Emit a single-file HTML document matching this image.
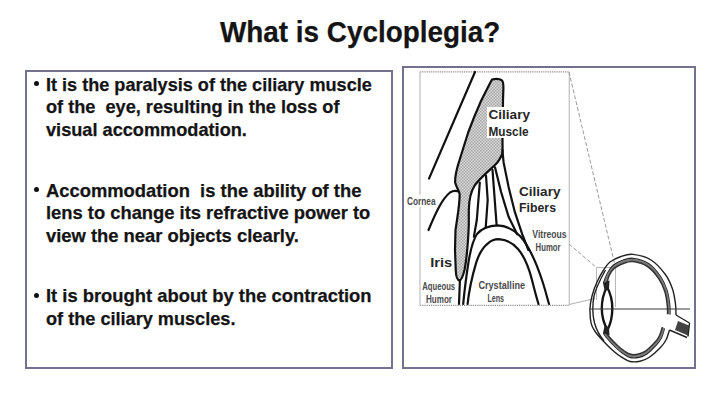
<!DOCTYPE html>
<html><head><meta charset="utf-8">
<style>
html,body{margin:0;padding:0;background:#fff;}
body{width:720px;height:404px;position:relative;overflow:hidden;font-family:"Liberation Sans",sans-serif;}
.t{position:absolute;white-space:pre;color:#141414;font-weight:bold;line-height:1;transform-origin:0 0;-webkit-text-stroke:0.25px #141414;}
.title{font-size:29px;}
.ln{font-size:18.5px;}
.bul{position:absolute;width:5px;height:5px;border-radius:50%;background:#111;}
.box{position:absolute;box-sizing:border-box;border:2.4px solid #72728c;}
</style></head><body>
<div class="t title m" id="title" style="left:219.5px;top:17.6px;transform:scaleX(0.961)">What is Cycloplegia?</div>

<div class="box" style="left:25px;top:70px;width:368px;height:299px;"></div>
<div class="box" style="left:401.5px;top:66px;width:294.5px;height:303px;"></div>

<div class="bul" style="left:33.9px;top:81px;"></div>
<div class="t ln m" id="l1" style="left:46.4px;top:75.9px;transform:scaleX(0.978)">It is the paralysis of the ciliary muscle</div>
<div class="t ln m" id="l2" style="left:46.4px;top:98.4px;transform:scaleX(0.981)">of the  eye, resulting in the loss of</div>
<div class="t ln m" id="l3" style="left:46.4px;top:121.1px;transform:scaleX(0.982)">visual accommodation.</div>

<div class="bul" style="left:34.1px;top:186.9px;"></div>
<div class="t ln m" id="l4" style="left:46.4px;top:181.7px;transform:scaleX(0.993)">Accommodation  is the ability of the</div>
<div class="t ln m" id="l5" style="left:46.4px;top:204.2px;transform:scaleX(0.992)">lens to change its refractive power to</div>
<div class="t ln m" id="l6" style="left:46.4px;top:226.5px;transform:scaleX(0.993)">view the near objects clearly.</div>

<div class="bul" style="left:33.9px;top:292.6px;"></div>
<div class="t ln m" id="l7" style="left:46.4px;top:287.1px;transform:scaleX(0.993)">It is brought about by the contraction</div>
<div class="t ln m" id="l8" style="left:46.4px;top:309.6px;transform:scaleX(0.980)">of the ciliary muscles.</div>

<svg width="720" height="404" viewBox="0 0 720 404" style="position:absolute;left:0;top:0">
<defs>
<pattern id="dots" width="3" height="3" patternUnits="userSpaceOnUse">
<rect width="3" height="3" fill="#dcdcdc"/><rect width="1.5" height="1.5" fill="#a4a4a4"/><rect x="1.5" y="1.5" width="1.5" height="1.5" fill="#a4a4a4"/>
</pattern>
</defs>
<!-- frame -->
<path d="M420,71.8 L569.5,71.8 M420,305.3 L569.5,305.3" fill="none" stroke="#8c8c8c" stroke-width="1.3" stroke-dasharray="1.2 1"/>
<path d="M420,72 L420,305.5 M569.3,72 L569.3,305.5" fill="none" stroke="#c4c4c4" stroke-width="1.3"/>
<!-- connection lines -->
<g stroke="#9a9a9a" stroke-width="1" fill="none" stroke-dasharray="4 2">
<path d="M569,72 L615.5,267.5"/>
<path d="M569,244 L596.5,267.5"/>
</g>
<path d="M569,304.5 L595,298.5" stroke="#b0b0b0" stroke-width="1" fill="none"/>
<g stroke="#b8b8b8" stroke-width="1" fill="none">
<path d="M596.5,267.5 L615.5,267.5 L615.5,307 M596.5,267.5 L596.5,300"/>
</g>
<!-- cornea -->
<g stroke="#111" stroke-width="2.2" fill="none" stroke-linecap="round">
<path d="M475,72 L429,178.6"/>
<path d="M428.5,230 C436,212 442,199 450,192.5 C453,190.5 456,190.5 459,191.5"/>
</g>
<!-- muscle + iris -->
<path d="M492,79.5 C496,78.5 500,79 502,80.5 C503.2,81.5 503.4,84 503.4,88 L503,100 L502.5,140 L502.6,152 C502,156 500,159 497,163 C490,170 480,178 475,185 C471,191 469,198 468.8,210 L468.8,225 C468,245 466.5,260 464.5,270 C463,276 461.5,280 459.5,280.5 C457,280 456,276 455.8,271 L455,250 L455.5,230 L457.3,218 C458.5,210 459.8,200 459.6,194 C459,190 456,187 455.1,182.3 C455,178 456,172 458,165 L468,133 C472,122 477,110 481,101 C485,93 489,85 492,79.5 Z" fill="url(#dots)" stroke="#111" stroke-width="2.2"/>
<!-- fibers and lens -->
<g stroke="#111" stroke-width="2.2" fill="none" stroke-linecap="round">
<path d="M502.4,150 L503.6,162.4 L508.6,187 L514.8,211.9 L522.2,234.2 L528.4,250"/>
<path d="M495,167.3 L501.1,192 L508.6,216.8 L517.2,234.2"/>
<path d="M492.5,169.8 L496.6,224.8"/>
<path d="M486,175.6 L487.7,200 L485.7,227.7"/>
<path d="M479.8,182.6 L476.8,220 L473.9,236.6"/>
<path d="M459.9,280.4 L459,304"/>
<path d="M463.2,304 C464.5,290 466.5,275 468.5,262 C470.5,250 473,240 477,234 C482,228 490,225.5 497.6,225.3 C505,225.5 513,229 520,236 C530,247 537,265 542,280 C545,289 547,297 549,304"/>
<path d="M467.6,304 C469,290 472.5,275 476.2,262.6 C479,254 482,248 487.7,243.6 C491,240.5 495,239.2 498.6,239.2 C505,239.5 512,242 518,249 C524,256 529,268 532,280 C534,288 536,296 538.5,304"/>
</g>
<!-- labels -->
<rect x="487" y="107" width="46" height="31" fill="#fff"/>
<rect x="517" y="184" width="46" height="31" fill="#fff"/>
<rect x="405" y="195" width="32" height="12" fill="#fff"/>
<!-- label text -->
<g font-family="Liberation Sans, sans-serif" font-weight="bold" fill="#262626" font-size="13.5">
<text x="488.5" y="119.3" textLength="41.5" lengthAdjust="spacingAndGlyphs">Ciliary</text>
<text x="488.5" y="135.7" textLength="40" lengthAdjust="spacingAndGlyphs">Muscle</text>
<text x="519" y="195.7" textLength="41.5" lengthAdjust="spacingAndGlyphs">Ciliary</text>
<text x="519" y="211.7" textLength="37" lengthAdjust="spacingAndGlyphs">Fibers</text>
<text x="430.2" y="266.9" textLength="22" lengthAdjust="spacingAndGlyphs">Iris</text>
</g>
<g font-family="Liberation Sans, sans-serif" fill="#4a4a4a" font-size="10" font-weight="bold">
<text x="407" y="204.7" textLength="28.6" lengthAdjust="spacingAndGlyphs">Cornea</text>
<text x="422.3" y="289.9" textLength="32.8" lengthAdjust="spacingAndGlyphs">Aqueous</text>
<text x="426" y="303.2" textLength="26" lengthAdjust="spacingAndGlyphs">Humor</text>
<text x="532.3" y="238.4" textLength="34.3" lengthAdjust="spacingAndGlyphs">Vitreous</text>
<text x="535.6" y="251" textLength="25" lengthAdjust="spacingAndGlyphs">Humor</text>
<text x="478.4" y="289.2" textLength="46.7" lengthAdjust="spacingAndGlyphs">Crystalline</text>
<text x="487.4" y="302.3" textLength="16.7" lengthAdjust="spacingAndGlyphs">Lens</text>
</g>
<!-- eye -->
<g fill="none" stroke="#222" stroke-width="1.4">
<path d="M676.0,315.0 C675.9,313.2 676.1,308.3 675.5,304.0 C674.9,299.7 674.2,294.0 672.5,289.0 C670.8,284.0 668.6,278.8 665.0,274.0 C661.4,269.2 656.3,263.3 651.0,260.0 C645.7,256.7 638.0,255.0 633.0,254.4 C628.0,253.8 624.8,255.2 621.0,256.5 C617.2,257.8 613.0,259.7 610.0,262.0 C607.0,264.3 605.5,267.2 603.3,270.5 C601.1,273.8 598.9,277.8 597.0,282.0 C595.1,286.2 593.2,291.5 592.0,296.0 C590.8,300.5 590.1,304.4 590.0,309.0 C589.9,313.6 590.3,319.8 591.2,323.6 C592.1,327.4 593.7,329.4 595.5,332.0 C597.3,334.6 598.8,336.2 601.8,339.4 C604.8,342.6 610.4,348.3 613.7,351.3 C617.0,354.3 618.9,355.5 621.6,357.2 C624.3,358.9 626.9,360.8 630.0,361.5 C633.1,362.2 636.8,361.9 640.0,361.2 C643.2,360.5 645.7,359.7 649.0,357.5 C652.3,355.3 657.2,350.9 660.0,348.0 C662.8,345.1 664.4,343.0 666.0,340.0 C667.6,337.0 668.9,331.7 669.5,330.0"/>
<path d="M670.0,314.5 C669.9,312.8 670.1,308.3 669.6,304.3 C669.1,300.3 668.5,295.1 667.0,290.4 C665.5,285.8 663.6,281.0 660.5,276.6 C657.4,272.1 653.1,266.6 648.5,263.6 C643.9,260.6 637.3,259.0 633.0,258.4 C628.7,257.9 626.0,259.2 622.7,260.4 C619.4,261.5 615.8,263.3 613.2,265.4 C610.7,267.6 609.1,270.4 607.5,273.3 C605.8,276.2 604.2,281.4 603.5,283.0 M603.5,333.0 C603.9,333.7 604.0,334.5 606.2,337.0 C608.3,339.6 613.6,345.3 616.4,348.1 C619.2,350.8 620.9,351.9 623.2,353.5 C625.5,355.1 627.8,356.9 630.4,357.5 C633.1,358.1 636.3,357.8 639.0,357.2 C641.7,356.6 643.9,355.8 646.8,353.8 C649.6,351.8 653.8,347.7 656.2,345.0 C658.7,342.3 660.0,340.4 661.4,337.6 C662.8,334.8 663.9,329.9 664.4,328.4" stroke="#222" stroke-width="1.4"/>
<path d="M668.8,314.3 C668.7,312.6 668.9,308.3 668.4,304.4 C667.9,300.5 667.3,295.5 665.9,291.0 C664.4,286.5 662.6,281.9 659.6,277.6 C656.7,273.2 652.4,268.0 648.0,265.0 C643.5,262.1 637.2,260.6 633.0,260.0 C628.8,259.5 626.2,260.8 623.0,261.9 C619.8,263.0 616.3,264.7 613.9,266.8 C611.4,268.9 609.8,271.6 608.3,274.4 C606.8,277.3 605.5,282.4 605.0,284.0 M605.0,332.0 C605.3,332.7 605.0,333.6 607.0,336.1 C609.0,338.6 614.2,344.1 616.9,346.8 C619.7,349.4 621.2,350.5 623.5,352.0 C625.8,353.6 628.0,355.3 630.5,355.9 C633.1,356.5 636.2,356.2 638.8,355.6 C641.5,355.0 643.5,354.3 646.3,352.3 C649.1,350.3 653.1,346.4 655.5,343.8 C657.8,341.2 659.1,339.3 660.5,336.6 C661.8,334.0 662.9,329.2 663.4,327.7" stroke="#7a7a7a" stroke-width="2.4"/>
<path d="M667.6,314.1 C667.5,312.5 667.7,308.3 667.2,304.5 C666.7,300.8 666.2,295.9 664.8,291.6 C663.4,287.2 661.6,282.8 658.7,278.6 C655.9,274.4 651.8,269.3 647.5,266.5 C643.2,263.7 637.0,262.1 633.0,261.6 C629.0,261.1 626.4,262.4 623.3,263.5 C620.3,264.5 616.9,266.2 614.5,268.2 C612.1,270.2 610.4,272.8 609.1,275.6 C607.8,278.4 606.9,283.4 606.5,285.0 M606.5,331.0 C606.7,331.7 606.1,332.8 607.9,335.2 C609.7,337.6 614.8,342.9 617.5,345.5 C620.1,348.0 621.6,349.1 623.8,350.6 C626.0,352.0 628.1,353.7 630.6,354.3 C633.1,354.9 636.1,354.6 638.6,354.0 C641.2,353.4 643.2,352.7 645.9,350.8 C648.6,348.9 652.4,345.1 654.7,342.6 C657.0,340.1 658.3,338.3 659.5,335.7 C660.8,333.1 661.9,328.5 662.4,327.0" stroke="#333" stroke-width="1.5"/>
<path d="M605.5,270 C601,278 596,288 594,296 C593,301 592.8,305 592.8,309.5 C592.8,314 593.2,318 594.5,323 C596.5,330 599,335 604,341"/>
<path d="M676,315 L689.5,323 M669.5,330 L687,337.5 M689.5,323 L688,336.5"/>
</g>
<path d="M678,321 L689,325.5 L688,335.5 L675,330 Z" fill="#222" opacity="0.85"/>
<path d="M607,287 C611,294 612.3,301 612.3,308.5 C612.3,316 611,323 607.5,330 C603.5,323 601.8,316 601.8,308.5 C601.8,301 603,294 607,287 Z" fill="none" stroke="#151515" stroke-width="2.4"/>
<path d="M603,283 L609.5,280.5 L609,289 L604.5,290 Z M603,333 L609.5,335.5 L609,327 L604.5,326 Z" fill="#222"/>
<path d="M589,309 L690,309" stroke="#3a3a3a" stroke-width="1.1"/>
</svg>

</body></html>
